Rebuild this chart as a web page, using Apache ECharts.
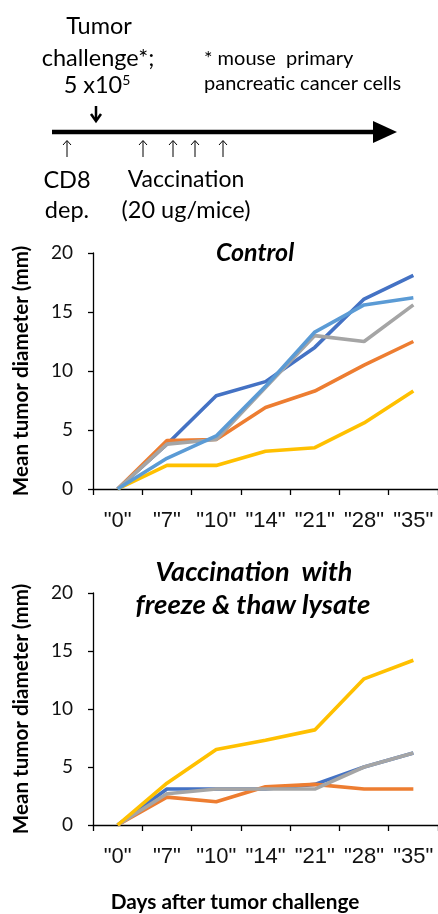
<!DOCTYPE html>
<html><head><meta charset="utf-8">
<script src="https://cdn.jsdelivr.net/npm/echarts@6/dist/echarts.min.js"></script>
<style>html,body{margin:0;padding:0;background:#fff}#c{width:438px;height:914px}</style>
</head><body><div id="c"></div>
<script>
var days = ['"0"', '"7"', '"10"', '"14"', '"21"', '"28"', '"35"'];
var yTicks = [0, 5, 10, 15, 20];
// Control group
var ctrlBlue = [0, 3.8, 7.9, 9.1, 12.0, 16.1, 18.1];
var ctrlOrange = [0, 4.1, 4.2, 6.9, 8.3, 10.5, 12.5];
var ctrlGray = [0, 3.8, 4.2, 8.6, 13.0, 12.5, 15.6];
var ctrlYellow = [0, 2.0, 2.0, 3.2, 3.5, 5.6, 8.3];
var ctrlLightBlue = [0, 2.6, 4.5, 8.7, 13.3, 15.6, 16.2];
// Vaccination group
var vacBlue = [0, 3.1, 3.1, 3.1, 3.5, 5.0, 6.2];
var vacOrange = [0, 2.4, 2.0, 3.3, 3.5, 3.1, 3.1];
var vacGray = [0, 2.7, 3.1, 3.1, 3.1, 5.0, 6.2];
var vacYellow = [0, 3.6, 6.5, 7.3, 8.2, 12.6, 14.2];

var C = {blue:'#4472C4', orange:'#ED7D31', gray:'#A5A5A5', yellow:'#FFC000', light:'#5B9BD5'};
var FONT = 'Lato';

function xAxis(gi){
  return {type:'category', gridIndex:gi, data:days, boundaryGap:true,
    axisLine:{lineStyle:{color:'#000', width:1.3}},
    axisTick:{show:true, length:6, lineStyle:{color:'#000', width:1.3}},
    axisLabel:{fontFamily:'Liberation Sans', fontSize:22, color:'#111', margin:21, interval:0}};
}
function yAxis(gi){
  return {type:'value', gridIndex:gi, min:yTicks[0], max:yTicks[yTicks.length-1], interval:yTicks[1]-yTicks[0],
    splitLine:{show:false},
    axisLine:{show:true, lineStyle:{color:'#000', width:1.3}},
    axisTick:{show:true, length:5, lineStyle:{color:'#000', width:1.3}},
    axisLabel:{fontFamily:FONT, fontSize:19, color:'#111', margin:20},
    name:'Mean tumor diameter (mm)', nameLocation:'middle', nameGap:61, nameRotate:90,
    nameTextStyle:{fontFamily:FONT, fontWeight:'bold', fontSize:20.6, color:'#000'}};
}
function ser(gi, data, color){
  return {type:'line', xAxisIndex:gi, yAxisIndex:gi, data:data, symbol:'none',
    lineStyle:{color:color, width:3.6}, itemStyle:{color:color}, silent:true, animation:false};
}
function upArrow(x){
  return {type:'group', children:[
    {type:'line', shape:{x1:x, y1:141, x2:x, y2:157}, style:{stroke:'#000', lineWidth:1}},
    {type:'polyline', shape:{points:[[x-4,145],[x,140.5],[x+4,145]]}, style:{stroke:'#000', lineWidth:1, fill:null}}
  ]};
}
var txt = function(x,y,t,extra){
  var s = Object.assign({text:t, x:x, y:y, fontFamily:FONT, fontSize:23.5, fill:'#000', align:'center', verticalAlign:'middle'}, extra||{});
  return {type:'text', style:s};
};

var chart = echarts.init(document.getElementById('c'), null, {renderer:'canvas'});
chart.setOption({
  animation:false,
  backgroundColor:'#fff',
  grid:[{left:93, top:253, width:345, height:236},
        {left:93, top:593, width:345, height:232}],
  xAxis:[xAxis(0), xAxis(1)],
  yAxis:[yAxis(0), yAxis(1)],
  series:[
    ser(0, ctrlBlue, C.blue), ser(0, ctrlOrange, C.orange), ser(0, ctrlGray, C.gray),
    ser(0, ctrlYellow, C.yellow), ser(0, ctrlLightBlue, C.light),
    ser(1, vacBlue, C.blue), ser(1, vacOrange, C.orange), ser(1, vacGray, C.gray), ser(1, vacYellow, C.yellow)
  ],
  graphic:[
    txt(255, 253, 'Control', {fontWeight:'bold', fontStyle:'italic', fontSize:25}),
    txt(254, 572, 'Vaccination  with', {fontWeight:'bold', fontStyle:'italic', fontSize:27}),
    txt(253, 605, 'freeze & thaw lysate', {fontWeight:'bold', fontStyle:'italic', fontSize:27.5}),
    txt(235, 902, 'Days after tumor challenge', {fontWeight:'bold', fontSize:20.8}),
    // timeline
    txt(99, 26, 'Tumor'),
    txt(98, 58, 'challenge*;'),
    {type:'text', style:{x:97, y:85, align:'center', verticalAlign:'middle',
      text:'{a|5 x10}{s|5}', rich:{a:{fontFamily:FONT, fontSize:23.5, fill:'#000'}, s:{fontFamily:FONT, fontSize:14, fill:'#000', verticalAlign:'top', padding:[0,0,10,0]}}}},
    txt(204, 59, '* mouse  primary', {align:'left', fontSize:20}),
    txt(204, 84, 'pancreatic cancer cells', {align:'left', fontSize:20}),
    {type:'line', shape:{x1:52, y1:132, x2:376, y2:132}, style:{stroke:'#000', lineWidth:4.5}},
    {type:'polygon', shape:{points:[[373,121],[397,132],[373,143]]}, style:{fill:'#000'}},
    {type:'line', shape:{x1:96, y1:106, x2:96, y2:120}, style:{stroke:'#000', lineWidth:2.5}},
    {type:'polyline', shape:{points:[[91,114],[96,121],[101,114]]}, style:{stroke:'#000', lineWidth:2.5, fill:null}},
    upArrow(67), upArrow(143), upArrow(173), upArrow(195), upArrow(223),
    txt(67, 180, 'CD8'),
    txt(67, 210, 'dep.'),
    txt(186, 180, 'Vaccination', {fontSize:23}),
    txt(186, 210, '(20 ug/mice)')
  ]
});
</script></body></html>
